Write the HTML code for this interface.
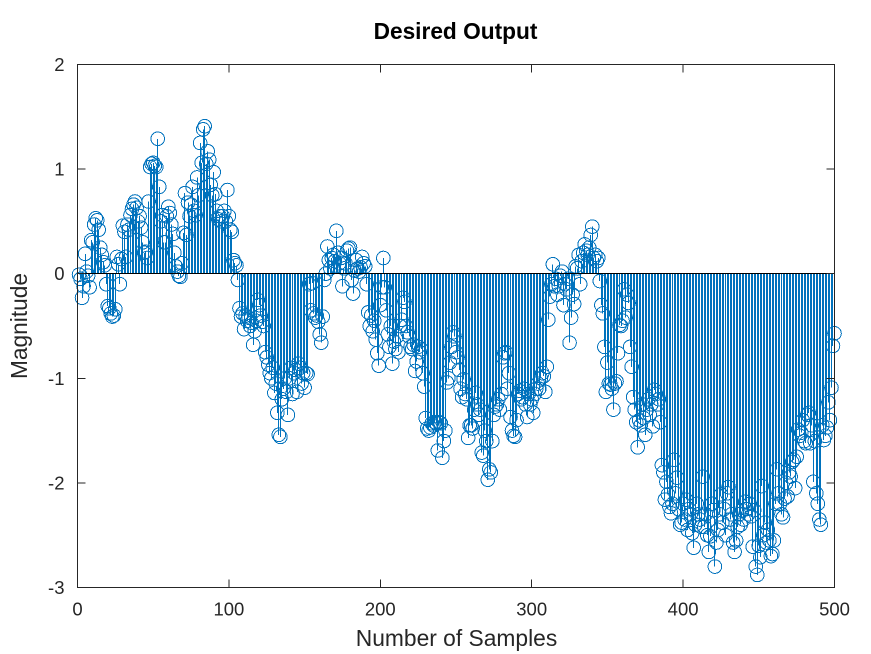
<!DOCTYPE html>
<html>
<head>
<meta charset="utf-8">
<style>
html,body{margin:0;padding:0;background:#fff;width:871px;height:654px;overflow:hidden}
svg{display:block}
text{font-family:"Liberation Sans",sans-serif;fill:#262626}
</style>
</head>
<body>
<svg id="chart" width="871" height="654" viewBox="0 0 871 654" xmlns="http://www.w3.org/2000/svg">
<rect x="77" y="64" width="757" height="523" fill="#fff"/>
<g id="stems"></g>
<g id="markers"></g>
<g id="axes"></g>
<text x="455.5" y="39" text-anchor="middle" font-size="22.7" font-weight="bold" style="fill:#000">Desired Output</text>
<text x="456.5" y="646" text-anchor="middle" font-size="22.8">Number of Samples</text>
<text transform="translate(27 326) rotate(-90)" text-anchor="middle" font-size="22.7">Magnitude</text>
</svg>
<script>
const firstSample = 1;
const xTicks = [0, 100, 200, 300, 400, 500];
const yTicks = [-3, -2, -1, 0, 1, 2];
const magnitudes = [
-.01,-.05,-.23,-.12,.19,.02,-.02,-.13,.32,.3,
.47,.53,.51,.42,.25,.18,.11,.08,-.1,-.31,
-.33,-.38,-.41,-.4,-.34,.16,.09,-.1,.14,.46,
.4,.16,.47,.42,.56,.62,.66,.69,.63,.5,
.55,.44,.3,.2,.21,.15,.69,1.02,1.05,1.06,
1.03,1.02,1.29,.83,.5,.56,.3,.3,.55,.64,
.58,.47,.38,.2,.07,.02,-.02,-.03,.1,.39,
.77,.37,.68,.55,.66,.83,.6,.56,.92,.75,
1.25,1.06,1.38,1.41,1.05,1.17,1.09,.85,.75,.97,
.76,.6,.52,.55,.5,.55,.6,.5,.8,.55,
.42,.4,.13,.1,.08,-.06,-.33,-.41,-.38,-.53,
-.4,-.45,-.42,-.5,-.47,-.68,-.55,-.45,-.25,-.3,
-.4,-.46,-.5,-.75,-.8,-.87,-.95,-1,-.9,-1.14,
-1.05,-1.33,-1.54,-1.56,-1.2,-1.1,-1,-1.13,-1.35,-1,
-.9,-1.15,-.95,-.92,-1.13,-.86,-.9,-1.05,-.95,-1.09,
-.95,-.96,-.1,-.35,-.09,-.38,-.42,-.4,-.46,-.58,
-.66,-.41,-.06,.0,.26,.13,.05,.15,.18,.12,
.41,.2,.1,.15,-.12,.05,.1,.22,.24,.25,
-.06,-.19,.03,.13,.05,.02,.06,.16,.1,.07,
-.1,-.37,-.5,-.4,-.55,-.45,-.63,-.76,-.88,-.3,
-.13,.15,-.13,-.35,-.58,-.7,-.5,-.86,-.65,-.72,
-.6,-.75,-.5,-.44,-.23,-.27,-.5,-.56,-.6,-.7,
-.72,-.68,-.93,-.84,-.7,-.75,-.72,-.95,-1.08,-1.38,
-1.48,-1.5,-1.47,-1.43,-1.45,-1.42,-1.43,-1.69,-1.42,-1.43,
-1.76,-1.6,-1.5,-1.04,-1,-.85,-.7,-.56,-.6,-.75,
-.8,-.92,-1.1,-1.18,-1.01,-1.15,-1.2,-1.57,-1.45,-1.45,
-1.48,-1.3,-1.14,-1.25,-1.35,-1.3,-1.71,-1.74,-1.5,-1.6,
-1.97,-1.87,-1.9,-1.6,-1.35,-1.27,-1.25,-1.2,-1.3,-1.15,
-.8,-.76,-.75,-1.1,-.95,-1.37,-1.5,-1.55,-1.56,-1.4,
-1.15,-1.12,-1.2,-1.18,-1.1,-1.25,-1.37,-1.15,-1.25,-1.2,
-1.33,-1.15,-1.1,-1.05,-1.1,-1,-.95,-.98,-1.13,-.89,
-.44,-.22,-.1,.09,-.12,-.05,-.2,-.12,-.02,.02,
-.3,-.1,-.15,-.05,-.66,-.42,-.2,-.29,.07,.05,
.18,-.1,.12,.2,.28,.22,.18,.25,.37,.45,
.15,.18,.12,.15,-.07,-.3,-.38,-.7,-1.13,-.85,
-1.05,-1.06,-1.1,-1.3,-1.05,-1.03,-.76,-.49,-.5,-.45,
-.15,-.42,-.2,-.28,-.7,-.89,-1.18,-1.3,-1.42,-1.66,
-1.4,-1.45,-1.25,-1.38,-1.54,-1.3,-1.2,-1.35,-1.25,-1.46,
-1.11,-1.15,-1.25,-1.2,-1.42,-1.83,-1.9,-2.16,-1.99,-2.11,
-2.23,-2.29,-2.2,-1.78,-2.1,-1.95,-2.25,-2.4,-2.38,-2.2,
-2.35,-2.16,-2.45,-2.25,-2.3,-2.48,-2.62,-2.4,-2.2,-2.3,
-2.35,-2.42,-1.94,-2.42,-2.3,-2.5,-2.66,-2.51,-2.2,-2.26,
-2.8,-2.57,-2.45,-2.3,-2.11,-2.38,-2.25,-2.5,-2.1,-2.04,
-2.35,-2.3,-2.57,-2.66,-2.55,-2.42,-2.3,-2.4,-2.26,-2.35,
-2.18,-2.25,-2.3,-2.2,-2.32,-2.61,-2.26,-2.8,-2.88,-2.6,
-2.71,-2.03,-2.5,-2.38,-2.57,-2.45,-2.55,-2.7,-2.68,-2.55,
-2.2,-1.87,-2.1,-2.2,-2.3,-2.33,-2.15,-2,-2.13,-1.9,
-1.94,-1.8,-1.78,-2.05,-1.75,-1.49,-1.55,-1.52,-1.4,-1.6,
-1.62,-1.35,-1.33,-1.62,-1.45,-1.99,-1.6,-2.1,-2.2,-2.35,
-2.4,-1.45,-1.59,-1.55,-1.47,-1.23,-1.4,-1.09,-.69,-.57
];

const NS = 'http://www.w3.org/2000/svg';
const plot = { left: 77.5, right: 834.5, top: 64.5, bottom: 587.5 };
const xDomain = [0, 500];
const yDomain = [-3, 2];
function xScale(v) {
  return plot.left + (v - xDomain[0]) / (xDomain[1] - xDomain[0]) * (plot.right - plot.left);
}
function yScale(v) {
  return plot.bottom - (v - yDomain[0]) / (yDomain[1] - yDomain[0]) * (plot.bottom - plot.top);
}
function svgEl(tag, attrs) {
  const el = document.createElementNS(NS, tag);
  for (const k in attrs) el.setAttribute(k, attrs[k]);
  return el;
}
const stemsG = document.getElementById('stems');
const markersG = document.getElementById('markers');
const axesG = document.getElementById('axes');
const blue = '#0072BD';
const ink = '#262626';

magnitudes.forEach(function (m, i) {
  const px = xScale(firstSample + i);
  const snapped = Math.floor(px) + 0.5;
  const stem = svgEl('line', { x1: snapped, x2: snapped, y1: yScale(0), y2: yScale(m), stroke: blue, 'stroke-width': 1, 'shape-rendering': 'crispEdges' });
  
  
  stemsG.appendChild(stem);
  const dot = svgEl('circle', { cx: px, cy: yScale(m), r: 6.8, fill: 'none', stroke: blue, 'stroke-width': 1, 'shape-rendering': 'crispEdges' });
  
  
  markersG.appendChild(dot);
});

const baseline = svgEl('line', { x1: plot.left, x2: plot.right, y1: yScale(0), y2: yScale(0), stroke: '#000', 'stroke-width': 1, 'shape-rendering': 'crispEdges' });


axesG.appendChild(baseline);

const frame = svgEl('rect', { x: plot.left, y: plot.top, width: plot.right - plot.left, height: plot.bottom - plot.top, fill: 'none', stroke: ink, 'stroke-width': 1, 'shape-rendering': 'crispEdges' });


axesG.appendChild(frame);

xTicks.forEach(function (t) {
  const px = xScale(t);
  const low = svgEl('line', { x1: px, x2: px, y1: plot.bottom, y2: plot.bottom - 8, stroke: ink, 'stroke-width': 1, 'shape-rendering': 'crispEdges' });
  
  
  axesG.appendChild(low);
  const high = svgEl('line', { x1: px, x2: px, y1: plot.top, y2: plot.top + 8, stroke: ink, 'stroke-width': 1, 'shape-rendering': 'crispEdges' });
  
  
  axesG.appendChild(high);
  const label = svgEl('text', { x: px, y: 615.5, 'text-anchor': 'middle', 'font-size': 18.5 });
  
  
  label.textContent = String(t);
  axesG.appendChild(label);
});

yTicks.forEach(function (t) {
  const py = yScale(t);
  const left = svgEl('line', { x1: plot.left, x2: plot.left + 8, y1: py, y2: py, stroke: ink, 'stroke-width': 1, 'shape-rendering': 'crispEdges' });
  
  
  axesG.appendChild(left);
  const right = svgEl('line', { x1: plot.right, x2: plot.right - 8, y1: py, y2: py, stroke: ink, 'stroke-width': 1, 'shape-rendering': 'crispEdges' });
  
  
  axesG.appendChild(right);
  const label = svgEl('text', { x: 64.5, y: py + 6.5, 'text-anchor': 'end', 'font-size': 18.5 });
  
  
  label.textContent = String(t);
  axesG.appendChild(label);
});
</script>
</body>
</html>
